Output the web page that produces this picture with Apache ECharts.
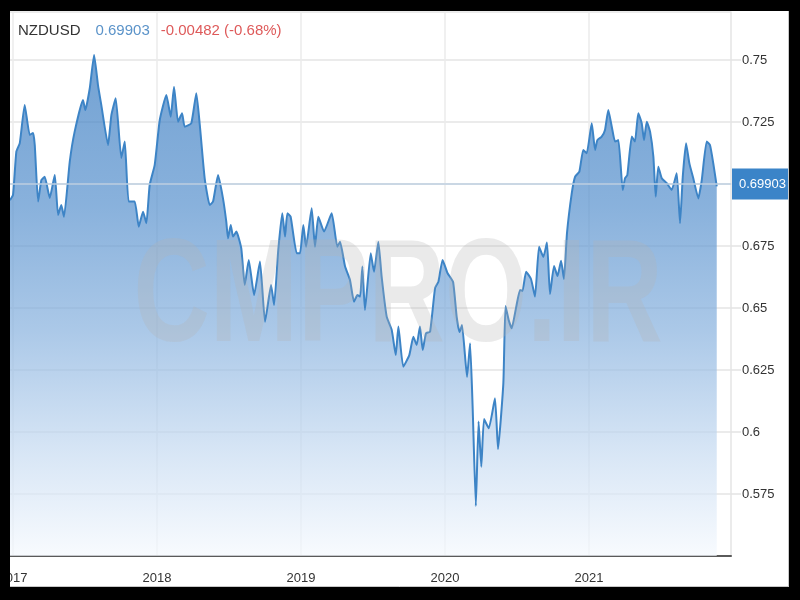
<!DOCTYPE html>
<html>
<head>
<meta charset="utf-8">
<script src="https://cdn.jsdelivr.net/npm/echarts@6/dist/echarts.min.js"></script>
<style>html,body{margin:0;padding:0;background:#000;}#c{width:800px;height:600px;}</style>
</head>
<body>
<div id="c"></div>
<script>
// Decimal-year positions of the weekly-ish samples
const years = [
  2016.979, 2017.000, 2017.023, 2017.047, 2017.081, 2017.116, 2017.139, 2017.151, 2017.174, 2017.197,
  2017.220, 2017.255, 2017.290, 2017.313, 2017.335, 2017.354, 2017.394, 2017.428, 2017.486, 2017.502,
  2017.533, 2017.563, 2017.590, 2017.613, 2017.660, 2017.683, 2017.713, 2017.752, 2017.776, 2017.803,
  2017.845, 2017.873, 2017.903, 2017.926, 2017.949, 2017.984, 2018.019, 2018.065, 2018.095, 2018.118,
  2018.146, 2018.174, 2018.192, 2018.238, 2018.273, 2018.297, 2018.331, 2018.366, 2018.389, 2018.424,
  2018.458, 2018.481, 2018.493, 2018.512, 2018.528, 2018.551, 2018.585, 2018.609, 2018.637, 2018.674,
  2018.715, 2018.750, 2018.792, 2018.813, 2018.842, 2018.870, 2018.889, 2018.905, 2018.928, 2018.970,
  2018.993, 2019.016, 2019.035, 2019.074, 2019.097, 2019.120, 2019.160, 2019.213, 2019.252, 2019.271,
  2019.306, 2019.340, 2019.368, 2019.391, 2019.410, 2019.426, 2019.444, 2019.484, 2019.507, 2019.537,
  2019.560, 2019.595, 2019.630, 2019.658, 2019.676, 2019.710, 2019.752, 2019.780, 2019.803, 2019.826,
  2019.845, 2019.868, 2019.896, 2019.931, 2019.954, 2019.983, 2020.017, 2020.056, 2020.081, 2020.101,
  2020.118, 2020.153, 2020.174, 2020.192, 2020.214, 2020.233, 2020.252, 2020.271, 2020.304, 2020.347,
  2020.368, 2020.405, 2020.420, 2020.442, 2020.463, 2020.493, 2020.521, 2020.538, 2020.563, 2020.597,
  2020.625, 2020.653, 2020.683, 2020.708, 2020.729, 2020.757, 2020.781, 2020.806, 2020.826, 2020.847,
  2020.880, 2020.903, 2020.933, 2020.960, 2020.984, 2021.019, 2021.042, 2021.058, 2021.088, 2021.111,
  2021.134, 2021.158, 2021.181, 2021.204, 2021.234, 2021.250, 2021.266, 2021.297, 2021.319, 2021.342,
  2021.366, 2021.382, 2021.401, 2021.424, 2021.447, 2021.463, 2021.481, 2021.505, 2021.540, 2021.574,
  2021.609, 2021.632, 2021.651, 2021.674, 2021.697, 2021.724, 2021.759, 2021.783, 2021.817, 2021.840,
  2021.863, 2021.887
];
const rates = [
  0.6935, 0.6956, 0.7130, 0.7165, 0.7319, 0.7198, 0.7206, 0.7157, 0.6929, 0.7016,
  0.7029, 0.6944, 0.7036, 0.6875, 0.6915, 0.6868, 0.7090, 0.7211, 0.7339, 0.7298,
  0.7386, 0.7520, 0.7399, 0.7319, 0.7157, 0.7278, 0.7346, 0.7105, 0.7171, 0.6929,
  0.6929, 0.6828, 0.6888, 0.6842, 0.6996, 0.7077, 0.7258, 0.7359, 0.7271, 0.7392,
  0.7251, 0.7285, 0.7231, 0.7245, 0.7366, 0.7238, 0.7023, 0.6915, 0.6929, 0.7036,
  0.6942, 0.6848, 0.6781, 0.6835, 0.6788, 0.6808, 0.6741, 0.6593, 0.6694, 0.6552,
  0.6687, 0.6445, 0.6593, 0.6512, 0.6734, 0.6882, 0.6788, 0.6882, 0.6868, 0.6721,
  0.6721, 0.6835, 0.6747, 0.6902, 0.6747, 0.6868, 0.6808, 0.6882, 0.6747, 0.6767,
  0.6667, 0.6613, 0.6525, 0.6552, 0.6546, 0.6667, 0.6492, 0.6721, 0.6646, 0.6767,
  0.6626, 0.6465, 0.6411, 0.6310, 0.6425, 0.6263, 0.6310, 0.6384, 0.6351, 0.6425,
  0.6331, 0.6398, 0.6404, 0.6581, 0.6606, 0.6694, 0.6641, 0.6605, 0.6464, 0.6403,
  0.6431, 0.6222, 0.6358, 0.6097, 0.5702, 0.6042, 0.5860, 0.6052, 0.6015, 0.6136,
  0.5931, 0.6196, 0.6508, 0.6452, 0.6418, 0.6500, 0.6573, 0.6569, 0.6646, 0.6617,
  0.6546, 0.6747, 0.6706, 0.6764, 0.6556, 0.6669, 0.6629, 0.6690, 0.6617, 0.6802,
  0.6962, 0.7029, 0.7050, 0.7137, 0.7124, 0.7245, 0.7137, 0.7177, 0.7191, 0.7218,
  0.7298, 0.7231, 0.7171, 0.7177, 0.6976, 0.7023, 0.7036, 0.7191, 0.7171, 0.7285,
  0.7245, 0.7177, 0.7251, 0.7211, 0.7110, 0.6949, 0.7070, 0.7023, 0.7003, 0.6976,
  0.7043, 0.6842, 0.7029, 0.7164, 0.7083, 0.7023, 0.6942, 0.7016, 0.7171, 0.7157,
  0.7083, 0.69903
];
const yearTicks = [2017, 2018, 2019, 2020, 2021];
const symbolName = 'NZDUSD';
const lastPrice = 0.69903;
const changeText = '-0.00482 (-0.68%)';
const watermark = 'CMPRO.IR';

const FONT = '"Liberation Sans", Arial, Helvetica, sans-serif';
const chart = echarts.init(document.getElementById('c'), null, {renderer: 'canvas'});
const data = years.map((y, i) => [y, rates[i]]);

chart.setOption({
  backgroundColor: '#ffffff',
  animation: false,
  textStyle: {fontFamily: FONT},
  title: {
    left: 18, top: 23, padding: 0,
    text: '{a|' + symbolName + '}{b|' + lastPrice.toFixed(5) + '}{c|' + changeText + '}',
    textStyle: {
      fontFamily: FONT, fontWeight: 'normal',
      rich: {
        a: {fontSize: 15, color: '#333333', fontFamily: FONT, fontWeight: 'normal'},
        b: {fontSize: 15, color: '#5b93c9', fontFamily: FONT, fontWeight: 'normal', padding: [0, 0, 0, 15]},
        c: {fontSize: 15, color: '#de5a5a', fontFamily: FONT, fontWeight: 'normal', padding: [0, 0, 0, 11]}
      }
    }
  },
  grid: {left: 10, right: 69, top: 12, bottom: 44, containLabel: false, outerBoundsMode: 'none'},
  xAxis: {
    type: 'value',
    min: 2016.979, max: 2021.986,
    axisLine: {show: true, lineStyle: {color: '#5a5a5a', width: 2}},
    axisTick: {show: false, customValues: yearTicks},
    axisLabel: {customValues: yearTicks, formatter: v => String(Math.round(v)), color: '#333', fontSize: 13, margin: 16, fontFamily: FONT},
    splitLine: {show: true, lineStyle: {color: '#ebebeb', width: 1.5}}
  },
  yAxis: {
    type: 'value', position: 'right',
    min: 0.55, max: 0.76935, interval: 0.025,
    axisLine: {show: true, lineStyle: {color: '#e4e4e4', width: 1.5}},
    axisTick: {show: true, length: 10, lineStyle: {color: '#e4e4e4', width: 1.5}},
    axisLabel: {
      showMinLabel: false, showMaxLabel: false,
      formatter: v => String(parseFloat(v.toFixed(3))),
      color: '#333', fontSize: 13, margin: 11, fontFamily: FONT
    },
    splitLine: {show: true, lineStyle: {color: '#e4e4e4', width: 1.5}}
  },
  graphic: [
    {
      type: 'text', x: 398, y: 300, z: 100, silent: true,
      scaleX: 0.72,
      style: {
        text: watermark, font: 'bold 147px ' + FONT,
        textAlign: 'center', textVerticalAlign: 'middle',
        fill: 'rgba(178,178,178,0.28)'
      }
    },
    {type: 'rect', z: 200, shape: {x: 0, y: 0, width: 10, height: 600}, style: {fill: '#000'}},
    {type: 'rect', z: 200, shape: {x: 0, y: 0, width: 800, height: 11}, style: {fill: '#000'}},
    {type: 'rect', z: 200, shape: {x: 789, y: 0, width: 11, height: 600}, style: {fill: '#000'}},
    {type: 'rect', z: 200, shape: {x: 0, y: 587, width: 800, height: 13}, style: {fill: '#000'}},
    {type: 'line', z: 201, shape: {x1: 788.5, y1: 11, x2: 788.5, y2: 587}, style: {stroke: '#c8c8c8', lineWidth: 1}},
    {type: 'line', z: 201, shape: {x1: 10, y1: 586.5, x2: 789, y2: 586.5}, style: {stroke: '#c8c8c8', lineWidth: 1}}
  ],
  series: [{
    type: 'line',
    data: data,
    showSymbol: false,
    smooth: 0.15,
    lineStyle: {color: '#3d84c6', width: 2},
    areaStyle: {
      color: new echarts.graphic.LinearGradient(0, 0, 0, 1, [
        {offset: 0, color: 'rgb(55,122,192)'},
        {offset: 0.3, color: 'rgb(86,144,205)'},
        {offset: 0.55, color: 'rgb(135,177,222)'},
        {offset: 0.8, color: 'rgb(200,220,242)'},
        {offset: 1, color: 'rgb(245,249,254)'}
      ])
    },
    markLine: {
      silent: true,
      symbol: ['none', 'none'],
      lineStyle: {color: '#bfd0e2', width: 1.5, type: 'solid'},
      label: {
        show: true, position: 'end', distance: 1,
        formatter: () => lastPrice.toFixed(5),
        color: '#ffffff', backgroundColor: '#3b84c8',
        fontSize: 13, fontFamily: FONT,
        padding: [9, 7, 9, 7]
      },
      data: [{yAxis: lastPrice}]
    }
  }]
});
</script>
</body>
</html>
